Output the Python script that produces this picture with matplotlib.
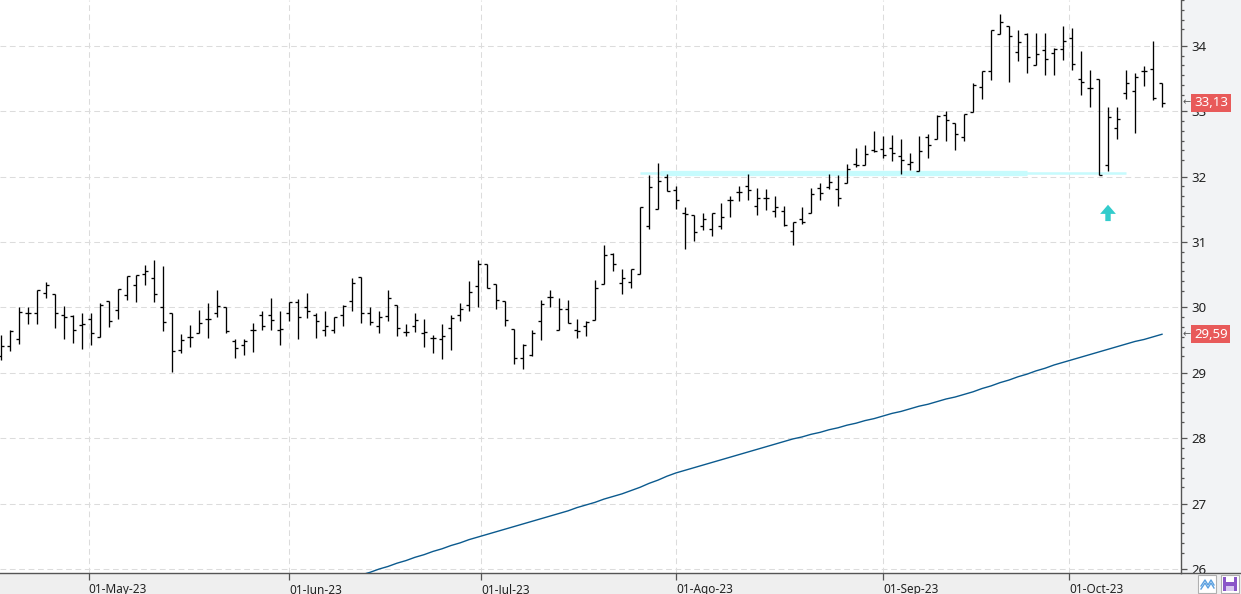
import matplotlib.pyplot as plt
import matplotlib.transforms as mtransforms
from matplotlib.patches import FancyArrow, Rectangle
from matplotlib.lines import Line2D
from matplotlib.ticker import FixedLocator
import numpy as np
import pandas as pd

# trading days (Spanish market, 1 May closed)
dates = pd.bdate_range('2023-04-17', '2023-10-16')
dates = dates[dates != pd.Timestamp('2023-05-01')]

opens = [29.26, 29.41, 29.52, 29.92, 29.92, 30.22, 30.21, 29.88, 29.87, 29.73,
         29.83, 29.55, 30.10, 29.96, 30.19, 30.35, 30.51, 30.45, 30.00, 29.91,
         29.35, 29.55, 29.61, 29.82, 29.92, 30.00, 29.49, 29.43, 29.65, 29.88,
         29.88, 29.66, 29.91, 30.08, 30.01, 29.88, 29.65, 29.65, 29.88, 30.10,
         30.46, 29.92, 29.71, 29.87, 30.04, 29.63, 29.71, 29.61, 29.53, 29.52,
         29.68, 29.88, 30.04, 30.33, 30.66, 30.36, 30.10, 29.67, 29.22, 29.27,
         29.80, 30.16, 29.65, 29.97, 29.65, 29.71, 29.81, 30.36, 30.82, 30.37,
         30.39, 30.51, 31.24, 31.50, 31.99, 31.79, 31.44, 31.41, 31.25, 31.20,
         31.24, 31.64, 31.76, 31.86, 31.55, 31.67, 31.48, 31.48, 31.17, 31.35,
         31.44, 31.82, 31.84, 31.81, 31.90, 32.19, 32.17, 32.40, 32.42, 32.44,
         32.32, 32.20, 32.09, 32.61, 32.57, 32.94, 32.82, 32.61, 32.99, 33.37,
         33.61, 34.18, 34.31, 33.91, 34.18, 33.71, 33.94, 33.89, 33.95, 34.12,
         33.49, 33.35, 33.49, 32.18, 32.74, 33.28, 33.31, 33.62, 33.65, 33.43]
highs = [29.58, 29.66, 30.00, 30.00, 30.27, 30.39, 30.21, 30.02, 29.88, 29.92,
         29.91, 30.07, 30.10, 30.28, 30.48, 30.50, 30.65, 30.73, 30.64, 29.91,
         29.59, 29.73, 29.96, 30.07, 30.26, 30.00, 29.51, 29.51, 29.76, 29.95,
         30.14, 29.94, 30.09, 30.13, 30.22, 29.91, 29.95, 29.86, 30.04, 30.45,
         30.46, 30.00, 29.95, 30.27, 30.04, 29.75, 29.92, 29.83, 29.58, 29.75,
         29.88, 30.07, 30.41, 30.73, 30.66, 30.36, 30.10, 29.67, 29.44, 29.66,
         30.12, 30.26, 30.15, 30.12, 29.82, 29.79, 30.42, 30.96, 30.83, 30.59,
         30.59, 31.54, 32.03, 32.21, 32.04, 31.86, 31.54, 31.42, 31.44, 31.45,
         31.60, 31.71, 31.86, 32.04, 31.82, 31.81, 31.70, 31.55, 31.31, 31.53,
         31.82, 31.90, 32.04, 32.03, 32.19, 32.43, 32.49, 32.70, 32.62, 32.64,
         32.57, 32.36, 32.62, 32.65, 32.94, 33.01, 32.82, 32.96, 33.43, 33.62,
         34.24, 34.48, 34.31, 34.24, 34.19, 34.19, 34.19, 33.96, 34.31, 34.27,
         33.92, 33.63, 33.49, 33.06, 33.06, 33.63, 33.58, 33.69, 34.08, 33.43]
lows = [29.19, 29.33, 29.44, 29.74, 29.74, 30.14, 29.69, 29.51, 29.45, 29.36,
        29.43, 29.55, 29.70, 29.83, 30.11, 30.08, 30.35, 30.09, 29.64, 29.02,
        29.30, 29.40, 29.61, 29.54, 29.85, 29.61, 29.23, 29.27, 29.32, 29.66,
        29.66, 29.42, 29.79, 29.51, 29.84, 29.53, 29.56, 29.61, 29.71, 29.95,
        29.76, 29.73, 29.61, 29.79, 29.57, 29.56, 29.63, 29.39, 29.30, 29.21,
        29.35, 29.80, 29.94, 30.00, 30.29, 29.97, 29.71, 29.13, 29.06, 29.25,
        29.50, 30.00, 29.65, 29.76, 29.53, 29.56, 29.81, 30.36, 30.56, 30.20,
        30.29, 30.51, 31.20, 31.50, 31.78, 31.51, 30.89, 31.01, 31.18, 31.09,
        31.20, 31.39, 31.62, 31.65, 31.41, 31.49, 31.38, 31.24, 30.95, 31.28,
        31.44, 31.65, 31.81, 31.55, 31.90, 32.14, 32.17, 32.38, 32.28, 32.24,
        32.04, 32.10, 32.08, 32.29, 32.57, 32.55, 32.40, 32.55, 32.99, 33.19,
        33.48, 34.18, 33.44, 33.76, 33.59, 33.70, 33.56, 33.56, 33.78, 33.63,
        33.25, 33.06, 32.03, 32.09, 32.57, 33.18, 32.67, 33.38, 33.17, 33.06]
closes = [29.41, 29.64, 29.93, 29.92, 30.27, 30.35, 29.92, 29.85, 29.65, 29.75,
          29.61, 30.04, 29.80, 30.28, 30.48, 30.50, 30.55, 30.21, 29.78, 29.34,
          29.50, 29.55, 29.76, 29.83, 30.02, 29.64, 29.38, 29.49, 29.65, 29.72,
          29.81, 29.67, 30.09, 29.85, 29.95, 29.80, 29.71, 29.86, 30.02, 30.37,
          29.92, 29.78, 29.86, 30.14, 29.69, 29.63, 29.81, 29.63, 29.53, 29.57,
          29.84, 29.97, 30.23, 30.66, 30.29, 30.11, 29.81, 29.22, 29.43, 29.61,
          30.06, 30.16, 29.98, 29.76, 29.64, 29.77, 30.29, 30.80, 30.66, 30.45,
          30.59, 31.54, 31.84, 31.93, 31.78, 31.64, 31.43, 31.16, 31.35, 31.44,
          31.38, 31.64, 31.76, 31.79, 31.67, 31.67, 31.54, 31.26, 31.31, 31.31,
          31.74, 31.75, 31.92, 31.67, 32.11, 32.17, 32.34, 32.39, 32.33, 32.36,
          32.25, 32.22, 32.39, 32.49, 32.93, 32.87, 32.65, 32.95, 33.40, 33.62,
          34.24, 34.36, 34.15, 34.06, 33.83, 33.88, 33.80, 33.95, 34.08, 33.72,
          33.45, 33.35, 32.03, 32.91, 32.88, 33.43, 33.53, 33.62, 33.20, 33.13]

# long moving average, visible from bar 40 on
ma_start = 40
ma_values = [25.91, 25.95, 26.00, 26.04, 26.09, 26.13, 26.18, 26.22, 26.27, 26.31,
             26.36, 26.40, 26.45, 26.49, 26.53, 26.57, 26.61, 26.65, 26.69, 26.73,
             26.77, 26.81, 26.85, 26.89, 26.94, 26.98, 27.02, 27.07, 27.11, 27.15,
             27.20, 27.25, 27.31, 27.36, 27.42, 27.47, 27.51, 27.55, 27.59, 27.63,
             27.67, 27.71, 27.75, 27.79, 27.83, 27.87, 27.91, 27.95, 27.99, 28.02,
             28.06, 28.09, 28.13, 28.16, 28.20, 28.23, 28.27, 28.30, 28.34, 28.38,
             28.41, 28.45, 28.49, 28.52, 28.56, 28.60, 28.63, 28.67, 28.71, 28.76,
             28.80, 28.85, 28.89, 28.94, 28.98, 29.03, 29.07, 29.12, 29.16, 29.20,
             29.24, 29.28, 29.32, 29.36, 29.40, 29.44, 29.48, 29.51, 29.55, 29.59]

# drawn support line and buy arrow
support_level = 32.06
support_from, support_thick_to, support_to = 71, 114, 125
arrow_bar = 123
arrow_base, arrow_tip = 31.32, 31.57

month_starts = ['2023-05-01', '2023-06-01', '2023-07-01', '2023-08-01', '2023-09-01', '2023-10-01']
month_labels = ['01-May-23', '01-Jun-23', '01-Jul-23', '01-Ago-23', '01-Sep-23', '01-Oct-23']

plt.rcParams['font.family'] = ['Noto Sans', 'DejaVu Sans']

W, H = 1241, 594
fig = plt.figure(figsize=(W / 100, H / 100), dpi=100, facecolor='#f2f3f5')
ax = fig.add_axes([0, 21 / H, 1181 / W, 573 / H])
ax.set_facecolor('white')

# bottom strip (behind the axes so the date labels stay visible)
fig.patches.append(Rectangle((0, 0), 1, 21 / H, transform=fig.transFigure,
                             fc='#efefef', ec='none', zorder=-1))

x = np.arange(len(dates))
ax.vlines(x, lows, highs, color='black', lw=0.95, zorder=3)
ax.hlines(opens, x - 0.36, x, color='black', lw=0.95, zorder=3)
ax.hlines(closes, x, x + 0.36, color='black', lw=0.95, zorder=3)

ma_x = np.arange(ma_start, ma_start + len(ma_values))
ax.plot(ma_x, ma_values, color='#0b5a8e', lw=1.0, zorder=3)

# support line (thin / thick / thin)
ax.plot([support_from, support_to], [support_level] * 2, color='#c6fbfd', lw=1.8,
        solid_capstyle='butt', zorder=2)
ax.plot([support_from + 2.2, support_thick_to], [support_level] * 2, color='#c6fbfd',
        lw=3.8, solid_capstyle='butt', zorder=2)

ax.add_patch(FancyArrow(arrow_bar, arrow_base, 0, arrow_tip - arrow_base,
                        width=0.6, head_width=1.75, head_length=0.14,
                        length_includes_head=True, fc='#33cccc', ec='none', zorder=4))

ax.set_xlim(-0.11, 131.11)
ax.set_ylim(25.94, 34.70)

# month ticks at calendar position between bars
ords = np.array([d.toordinal() for d in dates])
tick_pos = np.interp([pd.Timestamp(m).toordinal() for m in month_starts], ords, x)
ax.set_xticks(tick_pos)
ax.set_xticklabels(month_labels, ha='left', fontsize=8.5, color='#222222')
ax.tick_params(axis='x', direction='out', length=5, width=0.9, color='#555555', pad=2)

ax.yaxis.tick_right()
ax.set_yticks(np.arange(26, 35))
minors = [n - 0.15 * k for n in range(27, 36) for k in range(1, 6)]
ax.yaxis.set_minor_locator(FixedLocator(minors))
ax.tick_params(axis='y', which='major', direction='out', length=4.5, width=0.9,
               color='#555555', labelsize=9.5, labelcolor='#222222', pad=3)
ax.tick_params(axis='y', which='minor', direction='out', length=2.5, width=0.9,
               color='#555555')

ax.grid(True, which='major', color='#dcdcdc', lw=0.75, ls=(0, (5.5, 3.5)))
for side in ['top', 'left']:
    ax.spines[side].set_visible(False)
for side in ['right', 'bottom']:
    ax.spines[side].set_color('#555555')
    ax.spines[side].set_linewidth(1.0)

fig.add_artist(Line2D([1181 / W, 1], [21 / H, 21 / H], color='#555555', lw=1.0))

# value labels on the price scale
tr = mtransforms.blended_transform_factory(ax.transAxes, ax.transData)
for val in [closes[-1], ma_values[-1]]:
    ax.text(1 + 13 / 1181, val, f'{val:.2f}'.replace('.', ','), transform=tr,
            ha='left', va='center', fontsize=9.5, color='white', clip_on=False,
            zorder=10, bbox=dict(boxstyle='square,pad=0.2', fc='#e85a5a', ec='none'))
    ax.text(1 + 2 / 1181, val, '←', transform=tr, ha='left', va='center',
            fontsize=7, color='#555555', clip_on=False, zorder=10,
            family='DejaVu Sans')

# little toolbar icons in the bottom-right corner
for i in range(2):
    x0 = (1198 + 23 * i) / W
    fig.patches.append(Rectangle((x0, 1 / H), 18 / W, 18 / H, transform=fig.transFigure,
                                 fc='white', ec='#b0b0b0', lw=0.8))
fig.add_artist(Line2D(np.array([1201, 1205, 1208, 1211, 1214]) / W,
                      np.array([8, 14, 9, 14, 9]) / H, color='#5aa0e0', lw=1.0))
fig.add_artist(Line2D(np.array([1201, 1205, 1208, 1211, 1214]) / W,
                      np.array([5, 11, 6, 11, 6]) / H, color='#5aa0e0', lw=1.0))
fig.patches.append(Rectangle((1223 / W, 3 / H), 14 / W, 14 / H, transform=fig.transFigure,
                             fc='#8a55c8', ec='none'))
fig.patches.append(Rectangle((1226 / W, 12 / H), 8 / W, 5 / H, transform=fig.transFigure,
                             fc='white', ec='none'))
fig.patches.append(Rectangle((1226 / W, 3 / H), 8 / W, 5 / H, transform=fig.transFigure,
                             fc='#d8c8f0', ec='none'))

fig.savefig('out.png', dpi=100, facecolor=fig.get_facecolor())
